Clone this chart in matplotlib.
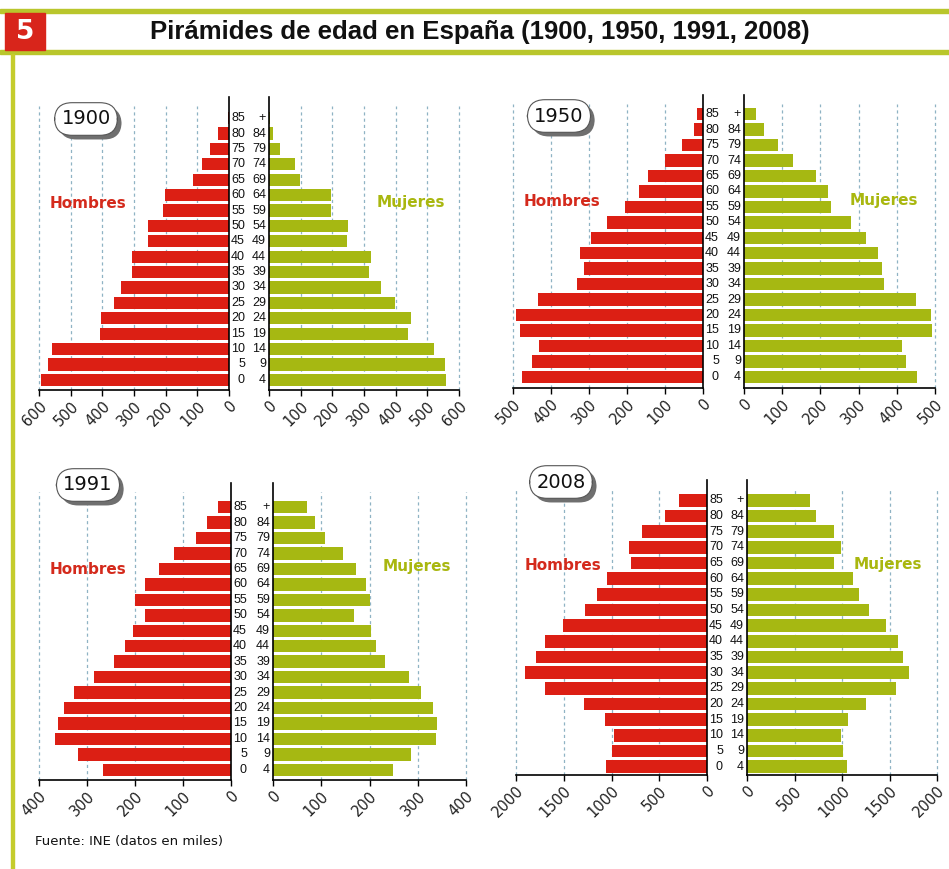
import matplotlib
matplotlib.use("Agg")
import matplotlib.pyplot as plt
from matplotlib.patches import Rectangle
from matplotlib.transforms import blended_transform_factory
import matplotlib.patheffects as pe

# ---------------- data (miles) ----------------
age_low = ['0', '5', '10', '15', '20', '25', '30', '35', '40', '45', '50', '55', '60', '65', '70', '75', '80', '85']
age_high = ['4', '9', '14', '19', '24', '29', '34', '39', '44', '49', '54', '59', '64', '69', '74', '79', '84', '+']

years = ['1900', '1950', '1991', '2008']

hombres_1900 = [594, 573, 558, 408, 404, 364, 340, 305, 306, 256, 257, 208, 203, 114, 84, 59, 35, 4]
mujeres_1900 = [560, 555, 520, 438, 448, 398, 353, 316, 321, 247, 249, 195, 195, 97, 82, 34, 13, 4]

hombres_1950 = [476, 450, 431, 482, 492, 433, 332, 313, 323, 294, 253, 204, 169, 145, 100, 54, 24, 15]
mujeres_1950 = [454, 423, 413, 493, 490, 450, 367, 362, 351, 320, 280, 229, 219, 188, 127, 89, 52, 31]

hombres_1991 = [266, 319, 366, 360, 347, 327, 286, 244, 220, 205, 180, 200, 179, 149, 118, 73, 51, 28]
mujeres_1991 = [248, 287, 338, 340, 331, 307, 281, 232, 213, 203, 167, 201, 192, 172, 146, 108, 87, 70]

hombres_2008 = [1054, 995, 978, 1071, 1285, 1693, 1907, 1793, 1693, 1503, 1278, 1147, 1047, 794, 819, 680, 442, 294]
mujeres_2008 = [1050, 1006, 991, 1066, 1255, 1569, 1708, 1645, 1588, 1459, 1289, 1182, 1120, 921, 991, 918, 726, 663]

axis_max = [600, 500, 400, 2000]
axis_step = [100, 100, 100, 500]

title = 'Pirámides de edad en España (1900, 1950, 1991, 2008)'
source = 'Fuente: INE (datos en miles)'

# ---------------- layout (pixels) ----------------
W, H = 949, 869
RED = '#dc1f14'
GREEN = '#a6b812'
TXT_RED = '#d42a1c'
TXT_GREEN = '#a9b70f'
GRID = '#8fb3c4'
STRIPE = '#b9c62c'

layout = [
    dict(L=(39, 229), R=(269, 459), bottom=390, bb=386, bt=112, top=97,
         yearpos=(86, 119), hpos=(88, 204), mpos=(411, 202)),
    dict(L=(513, 703), R=(744, 935), bottom=388, bb=383, bt=108, top=95,
         yearpos=(559, 116), hpos=(562, 201), mpos=(884, 200)),
    dict(L=(39, 231), R=(273, 466), bottom=780, bb=776, bt=501, top=483,
         yearpos=(88, 485), hpos=(88, 569), mpos=(417, 567)),
    dict(L=(516, 707), R=(747, 937), bottom=775, bb=773, bt=494, top=480,
         yearpos=(561, 482), hpos=(563, 566), mpos=(888, 564)),
]

series = [(hombres_1900, mujeres_1900), (hombres_1950, mujeres_1950),
          (hombres_1991, mujeres_1991), (hombres_2008, mujeres_2008)]

fig = plt.figure(figsize=(W / 100, H / 100), dpi=100)
fig.patch.set_facecolor('white')


def fx(x):
    return x / W


def fy(y):
    return 1 - y / H


def add_ax(x0, x1, ytop, ybot):
    return fig.add_axes([fx(x0), fy(ybot), (x1 - x0) / W, (ybot - ytop) / H])


BAR_H = 0.8
ypos = list(range(len(age_low)))

for i, (year, (hom, muj), lay) in enumerate(zip(years, series, layout)):
    xmax = axis_max[i]
    step = axis_step[i]
    ticks = list(range(0, xmax + 1, step))
    pitch = (lay['bb'] - lay['bt']) / (len(age_low) - 1 + BAR_H)
    ylow = -BAR_H / 2 - (lay['bottom'] - lay['bb']) / pitch
    yhigh = (len(age_low) - 1) + BAR_H / 2 + (lay['bt'] - lay['top']) / pitch

    for side, vals, (x0, x1), color in (('L', hom, lay['L'], RED), ('R', muj, lay['R'], GREEN)):
        ax = add_ax(x0, x1, lay['top'], lay['bottom'])
        ax.set_facecolor('none')
        for t in ticks[1:]:
            ax.axvline(t, color=GRID, lw=0.9, ls=(0, (2.5, 2.5)), zorder=0, clip_on=False,
                       ymax=0.97)
        ax.barh(ypos, vals, height=BAR_H, color=color, edgecolor='none', zorder=2)
        ax.set_ylim(ylow, yhigh)
        if side == 'L':
            ax.set_xlim(xmax, 0)
            ax.spines['left'].set_visible(False)
            ax.spines['right'].set_linewidth(1.2)
        else:
            ax.set_xlim(0, xmax)
            ax.spines['right'].set_visible(False)
            ax.spines['left'].set_linewidth(1.2)
        ax.spines['top'].set_visible(False)
        ax.spines['bottom'].set_linewidth(1.2)
        ax.set_yticks([])
        ax.set_xticks(ticks)
        ax.set_xticklabels([str(t) for t in ticks])
        ax.tick_params(axis='x', length=4, width=1, pad=2, labelsize=10.5,
                       labelcolor='#222222')
        for lab in ax.get_xticklabels():
            lab.set_rotation(45)
            lab.set_ha('right')
            lab.set_va('top')
            lab.set_rotation_mode('anchor')
        if side == 'L':
            tr = blended_transform_factory(fig.transFigure, ax.transData)
            for yv, lo, hi in zip(ypos, age_low, age_high):
                ax.text(fx(x1 + 16), yv, lo, transform=tr, ha='right', va='center',
                        fontsize=9, family='Liberation Sans', color='#111111', zorder=5)
                ax.text(fx(lay['R'][0] - 3), yv, hi, transform=tr, ha='right', va='center',
                        fontsize=9, family='Liberation Sans', color='#111111', zorder=5)

    # labels
    fig.text(fx(lay['hpos'][0]), fy(lay['hpos'][1]), 'Hombres', color=TXT_RED,
             fontsize=11, fontweight='bold', ha='center', va='center')
    fig.text(fx(lay['mpos'][0]), fy(lay['mpos'][1]), 'Mujeres', color=TXT_GREEN,
             fontsize=11, fontweight='bold', ha='center', va='center')
    yx, yy = lay['yearpos']
    yt = fig.text(fx(yx), fy(yy), year, color='#111111', fontsize=14,
                  ha='center', va='center',
                  bbox=dict(boxstyle='round,pad=0.35,rounding_size=0.9', fc='white',
                            ec='#555555', lw=0.8))
    yt.get_bbox_patch().set_path_effects([
        pe.SimplePatchShadow(offset=(3, -3), shadow_rgbFace='#6f6f6f', alpha=1.0),
        pe.Normal()])

# ---------------- header / frame ----------------
fig.patches.append(Rectangle((0, fy(13)), 1, 4 / H, transform=fig.transFigure,
                             color=STRIPE, zorder=5))
fig.patches.append(Rectangle((0, fy(54)), 1, 4 / H, transform=fig.transFigure,
                             color=STRIPE, zorder=5))
fig.patches.append(Rectangle((fx(5), fy(50)), 40 / W, 37 / H, transform=fig.transFigure,
                             color='#d8251b', zorder=6))
fig.patches.append(Rectangle((fx(11), 0), 2.5 / W, fy(54), transform=fig.transFigure,
                             color='#c5cc2c', zorder=5))
fig.text(fx(25), fy(32), '5', color='white', fontsize=19, fontweight='bold',
         ha='center', va='center', zorder=7)
fig.text(fx(480), fy(32), title, color='#111111', fontsize=18.5, fontweight='bold',
         family='Liberation Sans', ha='center', va='center')
fig.text(fx(35), fy(842), source, color='#111111', fontsize=9.5, ha='left', va='center')

fig.savefig('out.png', dpi=100, facecolor='white')
